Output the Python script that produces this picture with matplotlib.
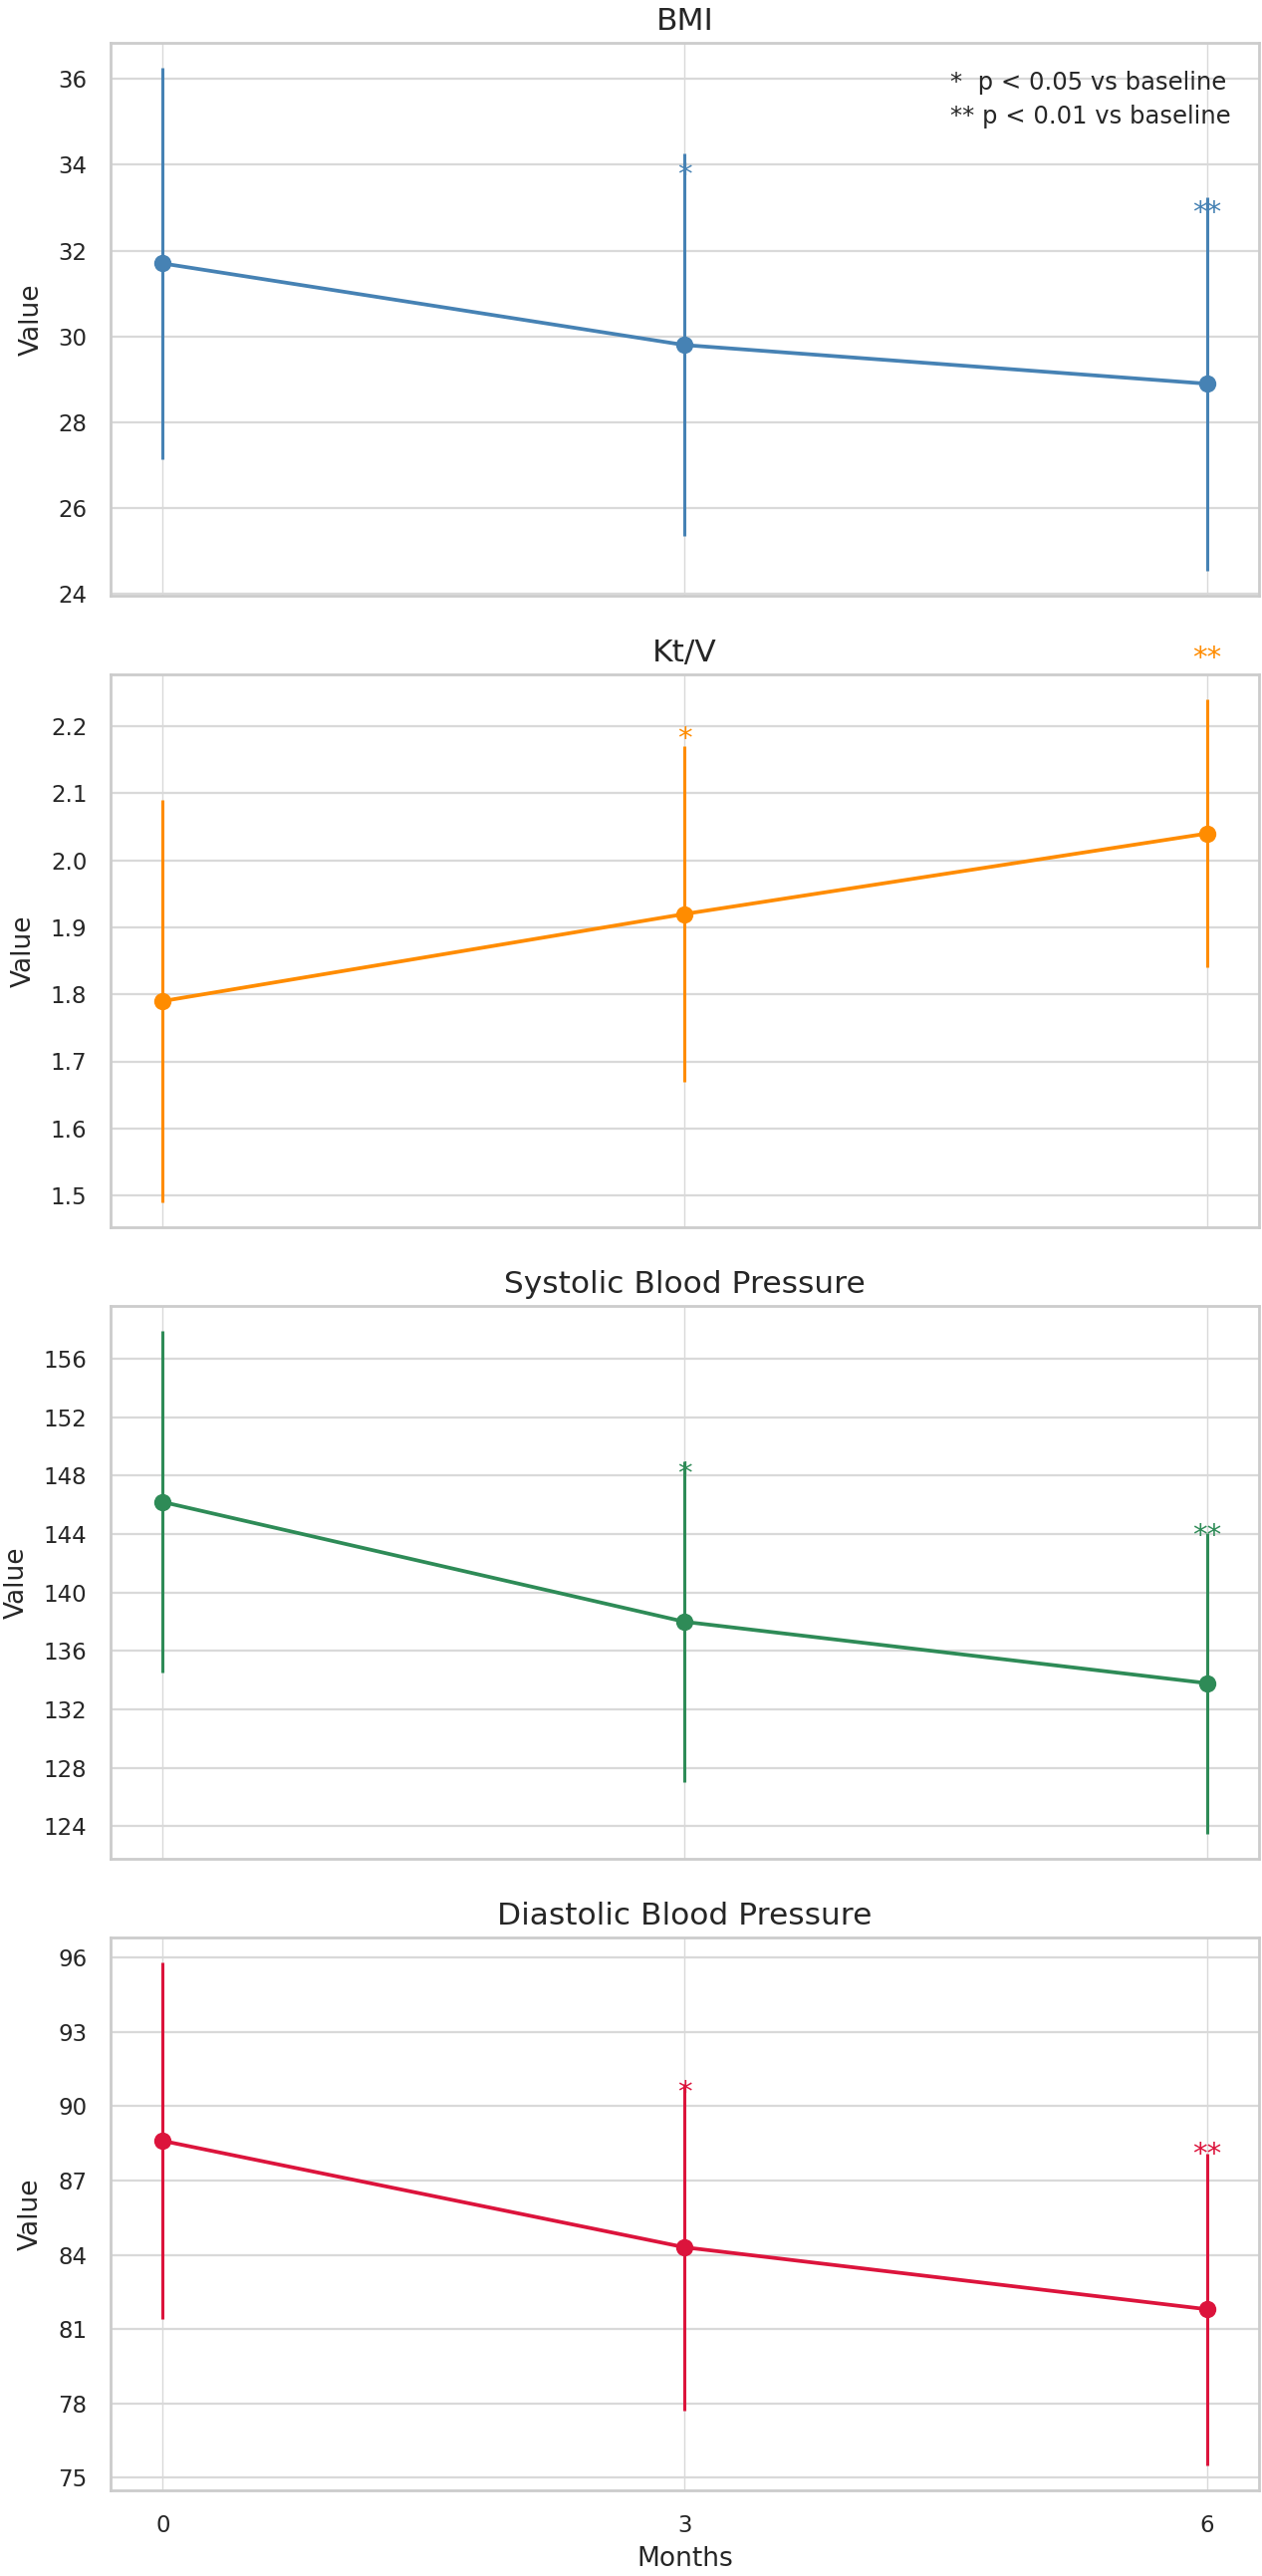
import matplotlib
matplotlib.use("Agg")
import matplotlib.pyplot as plt
import seaborn as sns
from matplotlib.ticker import MultipleLocator

# time points (months)
months = [0, 3, 6]

# mean and SD per visit
bmi_mean = [31.7, 29.8, 28.9]
bmi_sd = [4.55, 4.45, 4.35]
ktv_mean = [1.79, 1.92, 2.04]
ktv_sd = [0.30, 0.25, 0.20]
sbp_mean = [146.2, 138.0, 133.8]
sbp_sd = [11.7, 11.0, 10.3]
dbp_mean = [88.6, 84.3, 81.8]
dbp_sd = [7.2, 6.6, 6.3]

titles = ["BMI", "Kt/V", "Systolic Blood Pressure", "Diastolic Blood Pressure"]
means = [bmi_mean, ktv_mean, sbp_mean, dbp_mean]
sds = [bmi_sd, ktv_sd, sbp_sd, dbp_sd]
colors = ["steelblue", "darkorange", "seagreen", "crimson"]
ytick_steps = [2, 0.1, 4, 3]
signif = ["", "*", "**"]

sns.set_style("whitegrid")
plt.rcParams["font.family"] = ["DejaVu Sans"]
plt.rcParams["axes.edgecolor"] = ".8"
plt.rcParams["axes.linewidth"] = 2.0

W, H = 1267, 2586
fig = plt.figure(figsize=(W / 100, H / 100), dpi=100)

left, right = 111, 1264
tops = [43, 677, 1311, 1945]
ax_h = 555

axes = []
for i in range(4):
    ax = fig.add_axes([left / W, 1 - (tops[i] + ax_h) / H, (right - left) / W, ax_h / H],
                      sharex=axes[0] if axes else None)
    axes.append(ax)

for i, ax in enumerate(axes):
    c = colors[i]
    ax.errorbar(months, means[i], yerr=sds[i], fmt="-o", color=c, lw=2.7, ms=11.5,
                elinewidth=2.2, capsize=0, zorder=3)
    top = max(sds[i]) * 0.92
    for x, m, s in zip(months, means[i], signif):
        if s:
            ax.annotate(s, (x, m + top), xytext=(0, -7), textcoords="offset points",
                        ha="center", va="center", color=c, fontsize=21,
                        annotation_clip=False)
    ax.set_title(titles[i], fontsize=22.5, pad=9, color=".15")
    ax.set_ylabel("Value", fontsize=19, labelpad=10, color=".15")
    ax.yaxis.set_major_locator(MultipleLocator(ytick_steps[i]))
    ax.tick_params(axis="both", length=0, pad=17, labelsize=16.5, colors=".15")
    ax.grid(axis="y", color=".85", lw=1.6)
    ax.grid(axis="x", color=".85", lw=1.0)
    ax.set_xticks(months)
    if i < 3:
        plt.setp(ax.get_xticklabels(), visible=False)

axes[-1].set_xlabel("Months", fontsize=19, labelpad=7, color=".15")

axes[0].text(0.975, 0.95, "*  p < 0.05 vs baseline\n** p < 0.01 vs baseline",
             transform=axes[0].transAxes, ha="right", va="top", multialignment="left",
             fontsize=17.5, color=".15", linespacing=1.55)

fig.savefig("out.png", dpi=100)
